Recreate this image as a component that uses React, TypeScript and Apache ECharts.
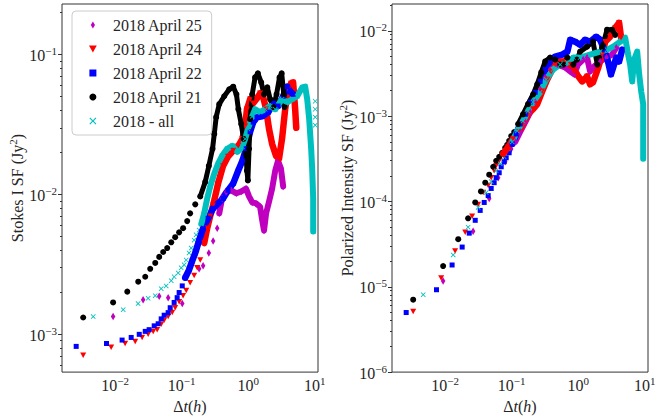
import React, { useEffect, useRef } from "react";
import * as echarts from "echarts";

// ---- Data: [Δt (h), structure function (Jy^2)] ----
// Stokes I SF (left panel)
const apr25StokesSparse = [[0.0093,0.00134],[0.0263,0.00177],[0.0459,0.00187],[0.0626,0.00183],[0.102,0.00166],[0.183,0.00294],[0.210,0.00309],[0.256,0.00382],[0.297,0.00464],[0.342,0.00574]];
const apr25StokesDense = [[0.367,0.00733],[0.405,0.00937],[0.466,0.0104],[0.555,0.0107],[0.666,0.0102],[0.786,0.0105],[0.928,0.0110],[1.03,0.00968],[1.15,0.00877],[1.31,0.00863],[1.51,0.00817],[1.63,0.00649],[1.73,0.00552],[1.86,0.00733],[2.06,0.00891],[2.29,0.0110],[2.55,0.0148],[2.81,0.0174],[3.11,0.0153],[3.36,0.0114]];

const apr24StokesSparse = [[0.0033,0.00071],[0.0087,0.00081],[0.0141,0.00086],[0.0200,0.00089],[0.0254,0.00095],[0.0313,0.00100],[0.0373,0.00105],[0.0428,0.00108],[0.0492,0.00118],[0.0545,0.00126],[0.0626,0.00134],[0.0720,0.00143],[0.0798,0.00155],[0.0916,0.00171],[0.105,0.00189],[0.117,0.00206],[0.134,0.00234],[0.154,0.00263],[0.171,0.00299],[0.190,0.00340]];
const apr24StokesDense = [[0.218,0.00449],[0.242,0.00574],[0.268,0.00700],[0.297,0.00836],[0.353,0.0120],[0.419,0.0160],[0.497,0.0187],[0.596,0.0206],[0.712,0.0223],[0.818,0.0250],[0.901,0.0309],[0.958,0.0407],[1.07,0.0480],[1.19,0.0450],[1.36,0.0487],[1.51,0.0529],[1.67,0.0504],[1.86,0.0407],[2.06,0.0294],[2.29,0.0230],[2.62,0.0189],[2.91,0.0180],[3.23,0.0250],[3.60,0.0407],[3.99,0.0565],[4.42,0.0622],[4.74,0.0633],[5.09,0.0407],[5.28,0.0300]];

const apr22StokesSparse = [[0.00259,0.00082],[0.0074,0.00086],[0.0127,0.00091],[0.0174,0.00095],[0.0230,0.00100],[0.0283,0.00105],[0.0324,0.00108],[0.0386,0.00115],[0.0443,0.00119],[0.0492,0.00129],[0.0545,0.00137],[0.0626,0.00143],[0.0672,0.00155],[0.0770,0.00169],[0.0855,0.00183],[0.0916,0.00199],[0.102,0.00222]];
const apr22StokesDense = [[0.113,0.00254],[0.129,0.00289],[0.144,0.00335],[0.160,0.00382],[0.183,0.00471],[0.210,0.00574],[0.250,0.00676],[0.297,0.00796],[0.353,0.00863],[0.419,0.00937],[0.497,0.0107],[0.596,0.0120],[0.712,0.0149],[0.818,0.0174],[0.928,0.0212],[1.07,0.0281],[1.19,0.0329],[1.36,0.0357],[1.63,0.0362],[2.01,0.0388],[2.39,0.0450],[2.81,0.0429],[3.36,0.0504],[3.87,0.0590],[4.28,0.0546],[4.74,0.0520]];

const apr21StokesSparse = [[0.0033,0.00132],[0.0093,0.00169],[0.0152,0.00202],[0.0222,0.00238],[0.0283,0.00258],[0.0336,0.00294],[0.0400,0.00324],[0.0459,0.00358],[0.0527,0.00388],[0.0605,0.00414],[0.0696,0.00455],[0.0798,0.00495],[0.0916,0.00536],[0.105,0.00574],[0.121,0.00645],[0.134,0.00733],[0.160,0.0085]];
const apr21StokesDense = [[0.190,0.00968],[0.226,0.0123],[0.256,0.0160],[0.291,0.0212],[0.309,0.0271],[0.330,0.0357],[0.367,0.0442],[0.436,0.0504],[0.519,0.0565],[0.596,0.0590],[0.666,0.0520],[0.712,0.0407],[0.786,0.0319],[0.854,0.0250],[0.928,0.0195],[0.958,0.0148],[0.990,0.0126],[1.03,0.0212],[1.07,0.0346],[1.15,0.0520],[1.27,0.0687],[1.40,0.0735],[1.57,0.0633],[1.73,0.0520],[1.94,0.0583],[2.14,0.0480],[2.39,0.0422],[2.67,0.0520],[2.96,0.0687],[3.19,0.0735],[3.43,0.0520],[3.52,0.0422]];

const allStokesSparse = [[0.00467,0.00134],[0.0132,0.00150],[0.0221,0.00166],[0.0313,0.00181],[0.0400,0.00189],[0.0492,0.00212],[0.0584,0.00222],[0.0696,0.00242],[0.0770,0.00258],[0.0886,0.00275],[0.0983,0.00299],[0.109,0.00314],[0.117,0.00340],[0.129,0.00382],[0.139,0.00414],[0.154,0.00471],[0.165,0.00515],[0.183,0.00557],[10.2,0.0464],[10.2,0.0407],[10.2,0.0357],[10.2,0.0313]];
const allStokesDense = [[0.197,0.00614],[0.218,0.00733],[0.242,0.00937],[0.268,0.0114],[0.309,0.0141],[0.353,0.0166],[0.405,0.0189],[0.483,0.0212],[0.577,0.0223],[0.688,0.0202],[0.818,0.0219],[0.901,0.0250],[0.992,0.0294],[1.15,0.0362],[1.27,0.0407],[1.51,0.0388],[1.80,0.0407],[2.14,0.0429],[2.55,0.0407],[3.23,0.0480],[3.87,0.0457],[4.59,0.0480],[5.45,0.0504],[6.49,0.0583],[7.20,0.0590],[7.72,0.0480],[8.27,0.0346],[8.56,0.0271],[8.86,0.0212],[9.17,0.0153],[9.5,0.00937],[9.5,0.00543]];

// Polarized intensity SF (right panel)
const apr25PolSparse = [[0.0093,1.17e-5],[0.0263,4.48e-5],[0.0459,1.08e-4],[0.0626,1.90e-4],[0.0798,2.92e-4],[0.0983,4.13e-4]];
const apr25PolDense = [[0.113,4.99e-4],[0.134,6.52e-4],[0.160,8.51e-4],[0.190,1.11e-3],[0.226,1.46e-3],[0.268,2.06e-3],[0.319,2.84e-3],[0.379,3.52e-3],[0.483,4.02e-3],[0.638,3.72e-3],[0.758,3.34e-3],[0.874,3.08e-3],[0.992,4.02e-3],[1.19,4.60e-3],[1.36,4.86e-3],[1.51,3.34e-3],[1.73,3.81e-3],[2.14,4.37e-3],[2.67,4.86e-3],[3.23,5.26e-3],[3.74,6.34e-3]];

const apr24PolSparse = [[0.0033,5.12e-6],[0.0087,1.27e-5],[0.0141,2.62e-5],[0.0200,4.36e-5],[0.0254,6.70e-5],[0.0313,9.22e-5],[0.0373,1.27e-4],[0.0443,1.54e-4],[0.0492,1.90e-4],[0.0545,2.29e-4],[0.0584,2.62e-4],[0.0649,3.00e-4]];
const apr24PolDense = [[0.0746,3.62e-4],[0.0886,4.36e-4],[0.105,5.40e-4],[0.125,6.52e-4],[0.148,8.07e-4],[0.176,1.05e-3],[0.210,1.21e-3],[0.242,1.38e-3],[0.288,1.95e-3],[0.342,2.69e-3],[0.393,3.34e-3],[0.451,4.02e-3],[0.536,4.37e-3],[0.638,4.37e-3],[0.758,4.02e-3],[0.958,3.08e-3],[1.15,2.55e-3],[1.36,2.92e-3],[1.51,2.36e-3],[1.67,2.49e-3],[2.01,3.72e-3],[2.29,5.26e-3],[2.55,7.45e-3],[3.03,8.52e-3],[3.60,1.08e-2],[4.13,1.24e-2],[4.42,8.29e-3]];

const apr22PolSparse = [[0.00259,4.99e-6],[0.0074,9.23e-6],[0.0127,1.80e-5],[0.0180,2.92e-5],[0.0230,4.25e-5],[0.0283,6.01e-5],[0.0336,7.85e-5],[0.0386,9.73e-5],[0.0443,1.17e-4],[0.0492,1.42e-4],[0.0545,1.66e-4],[0.0584,1.90e-4],[0.0649,2.17e-4],[0.0696,2.55e-4],[0.0770,2.92e-4],[0.0827,3.25e-4],[0.0916,3.72e-4]];
const apr22PolDense = [[0.102,4.72e-4],[0.117,6.18e-4],[0.134,8.07e-4],[0.160,1.05e-3],[0.190,1.46e-3],[0.226,1.90e-3],[0.268,2.55e-3],[0.319,3.52e-3],[0.379,4.37e-3],[0.451,4.99e-3],[0.577,5.26e-3],[0.688,5.70e-3],[0.758,7.86e-3],[0.901,7.45e-3],[1.07,6.87e-3],[1.27,7.86e-3],[1.51,7.45e-3],[1.86,8.52e-3],[2.14,7.86e-3],[2.46,6.01e-3],[2.81,4.37e-3],[3.11,3.08e-3],[3.36,3.72e-3],[3.74,4.86e-3],[4.13,4.37e-3],[4.59,6.01e-3]];

const apr21PolSparse = [[0.0033,7.06e-6],[0.0093,1.75e-5],[0.0157,3.61e-5],[0.0221,6.34e-5],[0.0283,9.73e-5],[0.0345,1.31e-4],[0.0400,1.66e-4],[0.0459,2.06e-4],[0.0527,2.55e-4],[0.0584,3.00e-4],[0.0649,3.34e-4],[0.0720,3.72e-4],[0.0798,4.25e-4],[0.0855,4.61e-4],[0.0916,5.12e-4],[0.0983,5.85e-4],[0.109,6.51e-4]];
const apr21PolDense = [[0.125,8.07e-4],[0.148,1.05e-3],[0.176,1.38e-3],[0.210,1.80e-3],[0.242,2.36e-3],[0.278,3.25e-3],[0.319,4.37e-3],[0.379,4.86e-3],[0.451,4.60e-3],[0.536,4.02e-3],[0.596,4.02e-3],[0.688,4.86e-3],[0.846,4.02e-3],[0.958,4.60e-3],[1.07,5.70e-3],[1.36,6.52e-3],[1.67,7.45e-3],[1.94,4.02e-3],[2.29,6.34e-3],[2.72,1.03e-2],[3.23,1.03e-2],[3.60,8.98e-3]];

const allPolSparse = [[0.00467,8.07e-6],[0.0132,2.36e-5],[0.0221,4.99e-5],[0.0313,8.52e-5],[0.0414,1.27e-4],[0.0492,1.71e-4],[0.0584,2.29e-4],[0.0672,2.77e-4],[0.0770,3.34e-4],[0.0886,4.13e-4]];
const allPolDense = [[0.102,4.99e-4],[0.121,6.70e-4],[0.148,8.75e-4],[0.176,1.14e-3],[0.210,1.46e-3],[0.268,1.90e-3],[0.330,2.69e-3],[0.419,3.52e-3],[0.536,4.02e-3],[0.688,4.25e-3],[0.846,4.86e-3],[1.07,4.86e-3],[1.51,5.26e-3],[2.14,5.70e-3],[2.72,6.01e-3],[3.36,6.52e-3],[4.28,7.45e-3],[5.09,8.29e-3],[5.64,5.26e-3],[6.05,4.02e-3],[6.49,2.55e-3],[6.96,4.60e-3],[7.72,5.70e-3],[8.27,3.08e-3],[8.86,1.95e-3],[9.5,1.38e-3],[9.5,8.07e-4],[9.5,3.16e-4]];

const seriesNames = ["2018 April 25", "2018 April 24", "2018 April 22", "2018 April 21", "2018 - all"];

// Axis ranges (log10 of the values)
const xExtent = [-2.8, 1.05];
const stokesExtent = [-3.27, -0.638];
const polExtent = [-6.0, -1.686];
const xMajor = [-2, -1, 0, 1];
const stokesMajor = [-3, -2, -1];
const polMajor = [-6, -5, -4, -3, -2];

// ---- Styling ----
const FONT = "Liberation Serif, DejaVu Serif, serif";
const TXT = "#262626";
const THIN_DIAMOND = "path://M3,0L6,5L3,10L0,5Z";
const TRI_DOWN = "path://M0,0L10,0L5,9Z";
const SQUARE = "path://M0,0L10,0L10,10L0,10Z";
const XMARK = "path://M0,1.2L1.2,0L5,3.8L8.8,0L10,1.2L6.2,5L10,8.8L8.8,10L5,6.2L1.2,10L0,8.8L3.8,5Z";

const styles = [
  { color: "#bf00bf", symbol: THIN_DIAMOND, size: [4.5, 7.5], band: 6 },
  { color: "#ff0000", symbol: TRI_DOWN, size: [6, 5.5], band: 6.5 },
  { color: "#0000ff", symbol: SQUARE, size: [5, 5], band: 6.5 },
  { color: "#000000", symbol: "circle", size: 6, band: 5 },
  { color: "#00bfbf", symbol: XMARK, size: [5, 5], band: 6 },
];

const stokesData = [
  [apr25StokesSparse, apr25StokesDense],
  [apr24StokesSparse, apr24StokesDense],
  [apr22StokesSparse, apr22StokesDense],
  [apr21StokesSparse, apr21StokesDense],
  [allStokesSparse, allStokesDense],
];
const polData = [
  [apr25PolSparse, apr25PolDense],
  [apr24PolSparse, apr24PolDense],
  [apr22PolSparse, apr22PolDense],
  [apr21PolSparse, apr21PolDense],
  [allPolSparse, allPolDense],
];

const toLog = (pts: number[][]) => pts.map(([x, y]) => [Math.log10(x), Math.log10(y)]);

function minorTicks(lo: number, hi: number) {
  const out: number[] = [];
  for (let n = -8; n <= 2; n++) {
    for (let k = 2; k <= 9; k++) {
      const v = n + Math.log10(k);
      if (v >= lo && v <= hi) out.push(v);
    }
  }
  return out;
}

const expLabel = (v: number) => {
  const e = Math.round(v);
  return `{b|10}{s|${e < 0 ? "\u2212" + -e : e}}`;
};

const tickRich = {
  b: { fontSize: 16, fontFamily: FONT, color: TXT, lineHeight: 18, verticalAlign: "bottom" },
  s: { fontSize: 11, fontFamily: FONT, color: TXT, lineHeight: 9, verticalAlign: "top" },
};
const nameRich = {
  n: { fontSize: 16, fontFamily: FONT, color: TXT, lineHeight: 18, verticalAlign: "bottom" },
  i: { fontSize: 16, fontFamily: FONT, fontStyle: "italic", color: TXT, lineHeight: 18, verticalAlign: "bottom" },
  s: { fontSize: 11, fontFamily: FONT, color: TXT, lineHeight: 9, verticalAlign: "top" },
};

function makeX(gridIndex: number) {
  return {
    type: "value",
    gridIndex,
    min: xExtent[0],
    max: xExtent[1],
    splitLine: { show: false },
    axisLine: { show: false, onZero: false },
    axisTick: { show: false },
    axisLabel: { customValues: xMajor, formatter: expLabel, rich: tickRich, margin: 3, fontFamily: FONT },
    name: "{n|\u0394}{i|t}{n|(}{i|h}{n|)}",
    nameLocation: "middle",
    nameGap: 21,
    nameTextStyle: { rich: nameRich, fontFamily: FONT },
  };
}

function makeYMajor(gridIndex: number, ext: number[], major: number[], name: string) {
  return {
    type: "value",
    gridIndex,
    position: "left",
    min: ext[0],
    max: ext[1],
    splitLine: { show: false },
    axisLine: { show: false, onZero: false },
    axisTick: { show: true, customValues: major, length: 4, lineStyle: { color: "#333", width: 1 } },
    axisLabel: { customValues: major, formatter: expLabel, rich: tickRich, margin: 5, fontFamily: FONT },
    name,
    nameLocation: "middle",
    nameGap: 35,
    nameTextStyle: { rich: nameRich, fontFamily: FONT },
  };
}

function makeYMinor(gridIndex: number, ext: number[]) {
  return {
    type: "value",
    gridIndex,
    position: "left",
    offset: 0,
    min: ext[0],
    max: ext[1],
    splitLine: { show: false },
    axisLine: { show: false, onZero: false },
    axisTick: { show: true, customValues: minorTicks(ext[0], ext[1]), length: 2, lineStyle: { color: "#333", width: 1 } },
    axisLabel: { show: false },
  };
}

function buildSeries() {
  const list: any[] = [];
  const panels = [
    { data: stokesData, x: 0, y: 0 },
    { data: polData, x: 1, y: 2 },
  ];
  // sparse points (scatter)
  panels.forEach((p) => {
    seriesNames.forEach((name, i) => {
      const st = styles[i];
      list.push({
        type: "scatter",
        name,
        xAxisIndex: p.x,
        yAxisIndex: p.y,
        data: toLog(p.data[i][0]),
        symbol: st.symbol,
        symbolSize: st.size,
        itemStyle: { color: st.color, opacity: 1 },
        emphasis: { disabled: true },
      });
    });
  });
  // dense parts (thick traces of markers)
  panels.forEach((p) => {
    seriesNames.forEach((name, i) => {
      const st = styles[i];
      list.push({
        type: "line",
        name,
        xAxisIndex: p.x,
        yAxisIndex: p.y,
        data: toLog(p.data[i][1]),
        symbol: st.symbol,
        symbolSize: st.size,
        showSymbol: true,
        showAllSymbol: true,
        lineStyle: { color: st.color, width: st.band, join: "round", cap: "round" },
        itemStyle: { color: st.color },
        emphasis: { disabled: true },
        z: 3,
      });
    });
  });
  return list;
}

const legendIcons = [THIN_DIAMOND, TRI_DOWN, SQUARE, "circle", XMARK];

export default function App() {
  const ref = useRef<HTMLDivElement>(null);
  useEffect(() => {
    const chart = echarts.init(ref.current!, null, { renderer: "svg" });
    chart.setOption({
      animation: false,
      backgroundColor: "#ffffff",
      textStyle: { fontFamily: FONT, color: TXT },
      grid: [
        { left: 62, top: 4, width: 256, height: 371, show: true, borderColor: "#333", borderWidth: 1, backgroundColor: "transparent" },
        { left: 392, top: 4, width: 256, height: 371, show: true, borderColor: "#333", borderWidth: 1, backgroundColor: "transparent" },
      ],
      xAxis: [makeX(0), makeX(1)],
      yAxis: [
        makeYMajor(0, stokesExtent, stokesMajor, "{n|Stokes I SF (Jy}{s|2}{n|)}"),
        makeYMinor(0, stokesExtent),
        makeYMajor(1, polExtent, polMajor, "{n|Polarized Intensity SF (Jy}{s|2}{n|)}"),
        makeYMinor(1, polExtent),
      ],
      legend: {
        data: seriesNames.map((n, i) => ({ name: n, icon: legendIcons[i], itemStyle: { color: styles[i].color } })),
        orient: "vertical",
        left: 72,
        top: 11,
        padding: [6, 9, 6, 17],
        itemGap: 8,
        itemWidth: 30,
        itemHeight: 7,
        textStyle: { fontSize: 16, fontFamily: FONT, color: TXT, lineHeight: 16 },
        borderColor: "#cccccc",
        borderWidth: 1,
        borderRadius: 4,
        backgroundColor: "#ffffff",
        selectedMode: false,
      },
      series: buildSeries(),
    });
    return () => chart.dispose();
  }, []);
  return <div ref={ref} style={{ position: "fixed", left: 0, top: 0, width: 659, height: 419 }} />;
}
